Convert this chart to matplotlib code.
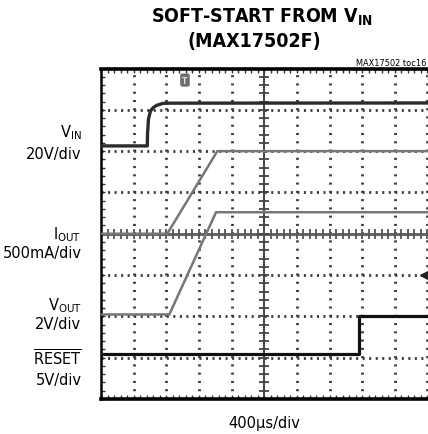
import numpy as np
import matplotlib
matplotlib.use("Agg")
import matplotlib.pyplot as plt

plt.rcParams['font.family'] = ['DejaVu Sans']
plt.rcParams['font.stretch'] = 'condensed'
plt.rcParams['mathtext.fontset'] = 'custom'
plt.rcParams['mathtext.rm'] = 'DejaVu Sans:stretch=condensed'
plt.rcParams['mathtext.bf'] = 'DejaVu Sans:weight=bold:stretch=condensed'
plt.rcParams['lines.scale_dashes'] = False

# ---------------- data (time in microseconds) ----------------
t_vin = [0, 567, 570, 582, 606, 641, 686, 760, 845, 4200]
v_vin = [0, 0, 5.8, 13.1, 16.9, 18.6, 19.7, 20.6, 20.7, 20.8]      # V

t_iout = [0, 812, 1425, 4200]
i_iout = [0, 0, 1.0, 1.0]                                            # A

t_vout = [0, 837, 1409, 4200]
v_vout = [0, 0, 4.95, 4.95]                                          # V

t_reset = [0, 3164, 3164, 4200]
v_reset = [0, 0, 4.64, 4.64]                                         # V

# channel scale (per div) and zero position (div from bottom)
vin_scale, vin_zero = 20.0, 6.126
iout_scale, iout_zero = 0.5, 4.0
vout_scale, vout_zero = 2.0, 2.046
reset_scale, reset_zero = 5.0, 1.09

time_per_div = 400.0
trigger_t = 1029.0

# ---------------- figure ----------------
W, H = 428, 435
fig = plt.figure(figsize=(W / 100, H / 100), dpi=100)
left_px, top_px, bot_px, right_px = 101, 69.5, 400, 440
div_px = 32.65
ax = fig.add_axes([left_px / W, 1 - bot_px / H, (right_px - left_px) / W, (bot_px - top_px) / H])
ax.set_xlim(0, time_per_div * (right_px - left_px) / div_px)
ax.set_ylim(0, 8)

# dotted graticule
grid_col = '#3a3a3a'
for k in range(1, 11):
    if k == 5:
        continue
    ax.axvline(k * time_per_div, color=grid_col, lw=2.0, dashes=[1.5, 4.45], zorder=1)
for k in range(1, 8):
    if k == 4:
        continue
    ax.axhline(k, color=grid_col, lw=2.0, dashes=[1.5, 3.2], zorder=1)

# centre crosshair with minor ticks
ax.axvline(5 * time_per_div, color='#444444', lw=1.4, zorder=2)
ax.axhline(4, color='#666666', lw=2.2, zorder=2)
yt = np.arange(0, 8.01, 0.2)
ax.plot([5 * time_per_div] * len(yt), yt, ls='none', marker='_', ms=7, mew=1.3, color='#444444', zorder=2)
xt = np.arange(0, 10.01, 0.2) * time_per_div
ax.plot(xt, [4] * len(xt), ls='none', marker='|', ms=7, mew=1.3, color='#555555', zorder=2)

# traces
ax.plot(t_iout, iout_zero + np.array(i_iout) / iout_scale, color='#767676', lw=1.8, zorder=3)
ax.plot(t_vout, vout_zero + np.array(v_vout) / vout_scale, color='#767676', lw=1.8, zorder=3)
ax.plot(t_vin, vin_zero + np.array(v_vin) / vin_scale, color='#2b2b2b', lw=2.4, zorder=4)
ax.plot(t_reset, reset_zero + np.array(v_reset) / reset_scale, color='#111111', lw=2.3, zorder=4)

# trigger marker and ground marker
ax.text(trigger_t, 7.72, 'T', ha='center', va='center', fontsize=6, color='#dddddd',
        fontweight='bold',
        bbox=dict(boxstyle='round,pad=0.25', fc='#6e6e6e', ec='none'), zorder=5)
ax.plot([10 * time_per_div - 40], [3.0], marker='<', ms=6, color='#222222', zorder=5, clip_on=False)

# frame
for s in ['left', 'top', 'bottom']:
    ax.spines[s].set_linewidth(2.6)
    ax.spines[s].set_color('black')
ax.spines['left'].set_linewidth(1.8)
ax.spines['right'].set_visible(False)
ax.set_xticks(np.arange(0, 10.01, 1) * time_per_div)
ax.set_xticks(np.arange(0, 10.01, 0.2) * time_per_div, minor=True)
ax.set_yticks(np.arange(0, 8.01, 1))
ax.set_yticks(np.arange(0, 8.01, 0.2), minor=True)
ax.tick_params(which='both', direction='in', top=True, bottom=True, left=True, right=False,
               labelbottom=False, labelleft=False, length=3, width=1.0, colors='#333333')

# ---------------- text ----------------
def ftxt(x, y, s, **kw):
    fig.text(x / W, 1 - y / H, s, fontstretch='condensed', **kw)

ftxt(262, 22.7, r'SOFT-START FROM V$_{\mathbf{IN}}$', ha='center', va='baseline',
     fontsize=14, fontweight='bold')
ftxt(254, 47.5, '(MAX17502F)', ha='center', va='baseline', fontsize=14, fontweight='bold')
ftxt(426, 66.5, 'MAX17502 toc16', ha='right', va='baseline', fontsize=6.6)

lab_x = 81.5
fs = 11.7
ftxt(lab_x, 137, r'V$_{\mathrm{IN}}$', ha='right', va='baseline', fontsize=fs)
ftxt(lab_x, 159, '20V/div', ha='right', va='baseline', fontsize=fs)
ftxt(lab_x, 239, r'I$_{\mathrm{OUT}}$', ha='right', va='baseline', fontsize=fs)
ftxt(lab_x, 258, '500mA/div', ha='right', va='baseline', fontsize=fs)
ftxt(lab_x, 310, r'V$_{\mathrm{OUT}}$', ha='right', va='baseline', fontsize=fs)
ftxt(lab_x, 329, '2V/div', ha='right', va='baseline', fontsize=fs)
ftxt(lab_x, 365, r'$\overline{\mathrm{RESET}}$', ha='right', va='baseline', fontsize=fs)
ftxt(lab_x, 385, '5V/div', ha='right', va='baseline', fontsize=fs)

ftxt(264.5, 428.5, '400µs/div', ha='center', va='baseline', fontsize=fs)

fig.savefig('out.png', dpi=100)
